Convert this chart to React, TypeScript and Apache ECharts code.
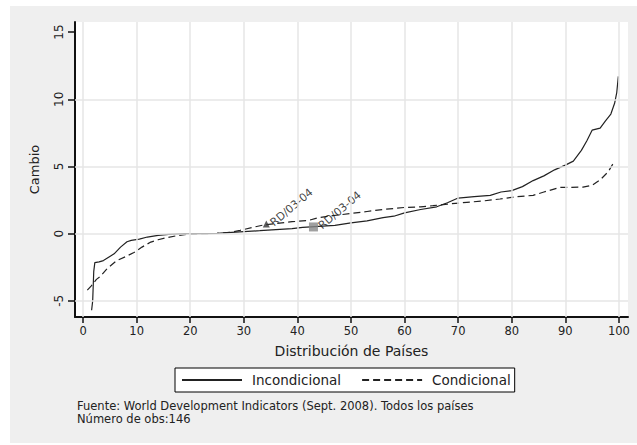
import React, { useEffect, useRef } from "react";
import * as echarts from "echarts";

const incX = [1.6, 1.8, 2.0, 2.2, 3.0, 3.8, 5.0, 5.8, 7.0, 8.2, 9.0, 10.5, 12, 14, 16, 19, 22, 25, 27, 30, 33, 36, 39, 41, 44, 47, 50, 53, 56, 58, 60, 63, 66, 68, 70, 73, 76, 78, 80, 82, 84, 86, 88, 90, 91.5, 93, 94, 95, 96.5, 97.5, 98.5, 99.2, 99.6, 99.9];
const incY = [-5.7, -5.0, -2.8, -2.15, -2.1, -2.0, -1.7, -1.5, -1.0, -0.6, -0.5, -0.4, -0.25, -0.12, -0.05, 0.0, 0.0, 0.02, 0.08, 0.15, 0.22, 0.3, 0.38, 0.47, 0.55, 0.62, 0.8, 0.95, 1.2, 1.3, 1.55, 1.8, 2.0, 2.3, 2.65, 2.75, 2.85, 3.1, 3.2, 3.5, 3.95, 4.3, 4.75, 5.1, 5.4, 6.2, 6.9, 7.7, 7.85, 8.4, 8.9, 9.7, 10.5, 11.7];

const conX = [0.8, 1.5, 2.5, 3.2, 4.5, 6.3, 8, 9.5, 11, 12.5, 14, 15.6, 17.5, 19.5, 22, 25, 27.5, 29.3, 31.5, 33.6, 36, 39, 42, 44, 46.6, 50, 53, 56, 60, 63, 65.3, 68, 71.6, 75, 77.8, 81, 84, 86, 89, 91, 93.3, 95, 96.5, 98, 98.9];
const conY = [-4.2, -3.9, -3.4, -3.2, -2.6, -2.0, -1.7, -1.4, -1.0, -0.65, -0.45, -0.3, -0.15, -0.05, 0.0, 0.02, 0.1, 0.25, 0.45, 0.64, 0.75, 0.89, 0.98, 1.2, 1.34, 1.5, 1.65, 1.8, 1.95, 2.0, 2.08, 2.2, 2.33, 2.45, 2.58, 2.75, 2.85, 3.1, 3.44, 3.45, 3.46, 3.6, 4.0, 4.6, 5.2];

const xTicks = [0, 10, 20, 30, 40, 50, 60, 70, 80, 90, 100];
const yTicks = [-5, 0, 5, 10, 15];
const yGrid = [-5, 0, 5, 10];
const markerLabel = "RD/03-04";
const triPoint = [34.2, 0.72];
const sqPoint = [43, 0.5];

const FONT = "DejaVu Sans";

export default function App() {
  const ref = useRef<HTMLDivElement>(null);
  useEffect(() => {
    const chart = echarts.init(ref.current!, null, { renderer: "svg" });
    const gridStyle = { color: "#e6e6e6", width: 1.5, type: "solid" as const };
    const pointLabel = {
      show: true, formatter: markerLabel, position: "right", distance: 2, rotate: 40,
      fontFamily: FONT, fontSize: 11, color: "#111",
    };
    chart.setOption({
      animation: false,
      graphic: [
        { type: "rect", z: -10, shape: { x: 10, y: 6, width: 627, height: 437 }, style: { fill: "#efefef" } },
        {
          type: "text", left: 77, top: 400,
          style: { text: "Fuente: World Development Indicators (Sept. 2008). Todos los países", font: `11.5px ${FONT}`, fill: "#222" },
        },
        {
          type: "text", left: 77, top: 413,
          style: { text: "Número de obs:146", font: `11.5px ${FONT}`, fill: "#222" },
        },
      ],
      grid: { left: 75, right: 9, top: 22, bottom: 128, show: true, backgroundColor: "#fff", borderWidth: 0 },
      legend: {
        data: ["Incondicional", "Condicional"],
        left: 175, top: 368,
        itemWidth: 60, itemHeight: 15, itemGap: 20,
        padding: [5, 4, 5, 6],
        borderColor: "#000", borderWidth: 1, backgroundColor: "#fff", borderRadius: 0,
        itemStyle: { color: "transparent", borderColor: "transparent", borderWidth: 0, opacity: 0 },
        textStyle: { fontFamily: FONT, fontSize: 13.5, color: "#222", width: 101, padding: [0, 0, 0, 5] },
      },
      xAxis: {
        type: "value", min: -1.5, max: 101.7,
        name: "Distribución de Países", nameLocation: "middle", nameGap: 27,
        nameTextStyle: { fontFamily: FONT, fontSize: 14, color: "#222" },
        axisLine: { show: true, onZero: false, lineStyle: { color: "#111", width: 2 } },
        axisTick: { show: true, length: 6, customValues: xTicks, lineStyle: { color: "#111", width: 1.5 } },
        axisLabel: { customValues: xTicks, margin: 8, fontFamily: FONT, fontSize: 11.5, color: "#222" },
        splitLine: { show: false },
      },
      yAxis: {
        type: "value", min: -6.2, max: 15.75,
        name: "Cambio", nameLocation: "middle", nameGap: 34,
        nameTextStyle: { fontFamily: FONT, fontSize: 13, color: "#222" },
        axisLine: { show: true, onZero: false, lineStyle: { color: "#111", width: 2 } },
        axisTick: { show: true, length: 7, customValues: yTicks, lineStyle: { color: "#111", width: 1.5 } },
        axisLabel: { customValues: yTicks, rotate: 90, margin: 10, fontFamily: FONT, fontSize: 12, color: "#222" },
        splitLine: { show: false },
      },
      series: [
        {
          type: "line", name: "grid", data: [], z: 1, silent: true,
          markLine: {
            silent: true, symbol: "none", label: { show: false }, lineStyle: gridStyle,
            data: [
              ...xTicks.map((v) => ({ xAxis: v })),
              ...yGrid.map((v) => ({ yAxis: v })),
            ],
          },
        },
        {
          type: "line", name: "Incondicional", z: 3,
          data: incX.map((x, i) => [x, incY[i]]),
          showSymbol: false, symbol: "none",
          lineStyle: { color: "#222", width: 1.2, type: "solid" },
          itemStyle: { color: "#222" },
        },
        {
          type: "line", name: "Condicional", z: 3,
          data: conX.map((x, i) => [x, conY[i]]),
          showSymbol: false, symbol: "none",
          lineStyle: { color: "#222", width: 1.2, type: [7, 4] },
          itemStyle: { color: "#222" },
        },
        {
          type: "scatter", name: "tri", z: 4,
          data: [triPoint], symbol: "triangle", symbolSize: 7,
          itemStyle: { color: "#333" },
          label: pointLabel,
        },
        {
          type: "scatter", name: "sq", z: 4,
          data: [sqPoint], symbol: "rect", symbolSize: 9,
          itemStyle: { color: "#888" },
          label: pointLabel,
        },
      ],
    });
    return () => chart.dispose();
  }, []);
  return <div ref={ref} style={{ position: "absolute", left: 0, top: 0, width: 637, height: 445 }} />;
}
